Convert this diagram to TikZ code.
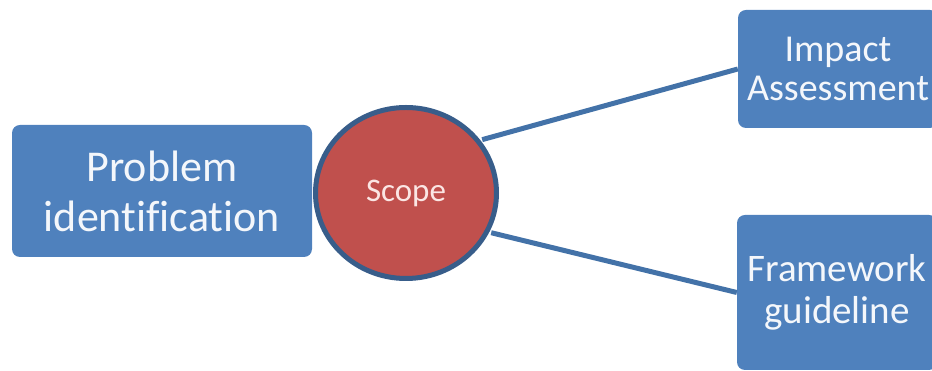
\documentclass[tikz,border=0pt]{standalone}
\usepackage{fontspec}
\setmainfont{Carlito}[Ligatures={NoCommon,NoRequired,NoContextual}]
\usetikzlibrary{shapes.geometric}
\definecolor{boxblue}{HTML}{4F81BD}
\definecolor{scopered}{HTML}{C0504D}
\definecolor{rimblue}{HTML}{385D8A}
\definecolor{linkblue}{HTML}{4372A8}
\definecolor{txtwhite}{HTML}{F4F7FB}
\definecolor{scopetxt}{HTML}{FBE6E4}
\tikzset{
  bluebox/.style={draw=none, fill=boxblue, rounded corners=8pt, text=txtwhite, align=center, inner sep=0pt},
  scopenode/.style={ellipse, draw=rimblue, line width=5pt, fill=scopered, text=scopetxt, inner sep=0pt, minimum width=181pt, minimum height=171pt},
  link/.style={draw=linkblue, line width=5pt}
}
\begin{document}
\begin{tikzpicture}[x=1pt,y=1pt]
\useasboundingbox (0,0) rectangle (932,371);
\node[bluebox, minimum width=300pt, minimum height=132pt, font=\fontsize{44}{50}\selectfont] (prob) at (162,180) {Problem\\identification};
\node[bluebox, minimum width=200pt, minimum height=118pt, font=\fontsize{38}{39}\selectfont] (impact) at (838,302) {Impact\\Assessment};
\node[bluebox, minimum width=200pt, minimum height=155pt, font=\fontsize{39}{42}\selectfont] (frame) at (837,78.5) {Framework\\guideline};
\path (406,178) ++(35:93) coordinate (s1);
\path (406,178) ++(-25:94) coordinate (s2);
\draw[link] (s1) -- (impact.west);
\draw[link] (s2) -- (frame.west);
\node[scopenode, font=\fontsize{33}{36}\selectfont] (scope) at (406,178) {Scope};
\end{tikzpicture}
\end{document}
